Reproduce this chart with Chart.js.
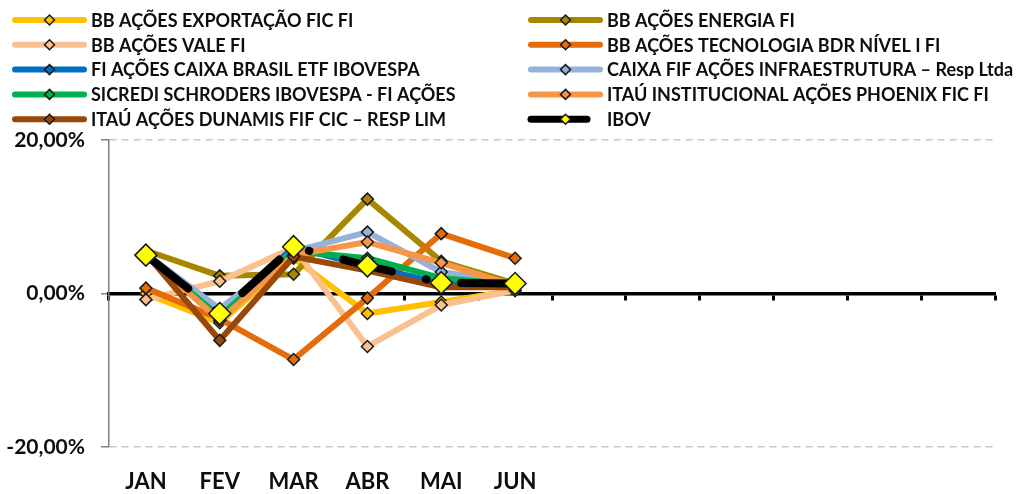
<!DOCTYPE html>
<html>
<head>
<meta charset="utf-8">
<script src="https://cdn.jsdelivr.net/npm/chart.js@4/dist/chart.umd.min.js"></script>
<style>
  html, body { margin: 0; padding: 0; background: #fff; }
  canvas { display: block; }
</style>
</head>
<body>
<canvas id="chart" width="1031" height="494"></canvas>
<script>
// meses (só o primeiro semestre tem dados)
const months = ['JAN', 'FEV', 'MAR', 'ABR', 'MAI', 'JUN', '', '', '', '', '', ''];
const yTicks = [-20, 0, 20];

const exportacao  = [0.0, -3.8, 4.6, -2.6, -1.1, 0.4];
const energia     = [5.6, 2.3, 2.5, 12.3, 4.2, 1.3];
const vale        = [-0.8, 1.6, 6.0, -6.9, -1.5, 0.4];
const tecnologia  = [0.7, -3.3, -8.6, -0.6, 7.8, 4.6];
const caixaEtf    = [5.0, -2.5, 6.0, 3.6, 1.3, 1.2];
const infra       = [5.2, -2.0, 5.5, 8.0, 2.8, 1.3];
const sicredi     = [5.0, -3.0, 5.5, 4.6, 2.0, 1.2];
const phoenix     = [5.0, -3.5, 5.0, 6.7, 4.0, 1.0];
const dunamis     = [5.2, -6.1, 4.8, 3.0, 0.8, 0.8];
const ibov        = [5.0, -2.6, 6.1, 3.6, 1.4, 1.3];

const FONT = 'Lato, "Open Sans", sans-serif';

function serie(label, data, color, extra) {
  return Object.assign({
    label: label,
    data: data,
    borderColor: color,
    backgroundColor: color,
    pointBackgroundColor: color,
    pointBorderColor: '#1a1a1a',
    pointBorderWidth: 1.5,
    pointStyle: 'rectRot',
    pointRadius: 6,
    borderWidth: 6,
    borderCapStyle: 'round',
    borderJoinStyle: 'round',
    tension: 0
  }, extra || {});
}

const datasets = [
  serie('BB AÇÕES EXPORTAÇÃO FIC FI', exportacao, '#FFC000'),
  serie('BB AÇÕES ENERGIA FI', energia, '#A88700'),
  serie('BB AÇÕES VALE FI', vale, '#FAC090'),
  serie('BB AÇÕES TECNOLOGIA BDR NÍVEL I FI', tecnologia, '#E46C0A'),
  serie('FI AÇÕES CAIXA BRASIL ETF IBOVESPA', caixaEtf, '#0070C0'),
  serie('CAIXA FIF AÇÕES INFRAESTRUTURA – Resp Ltda', infra, '#95B3D7'),
  serie('SICREDI SCHRODERS IBOVESPA - FI AÇÕES', sicredi, '#00B050'),
  serie('ITAÚ INSTITUCIONAL AÇÕES PHOENIX FIC FI', phoenix, '#F79646'),
  serie('ITAÚ AÇÕES DUNAMIS FIF CIC – RESP LIM', dunamis, '#984807'),
  serie('IBOV', ibov, '#000000', {
    pointBackgroundColor: '#FFFF00',
    pointRadius: 11,
    borderWidth: 8,
    borderDash: [50, 35, 0.5, 35],
    borderDashOffset: -4
  })
];
// a última série fica por cima
datasets.forEach((d, i) => { d.order = datasets.length - i; });

// legenda em duas colunas, como no Excel
const twoColLegend = {
  id: 'twoColLegend',
  afterDraw(chart) {
    const ctx = chart.ctx;
    ctx.save();
    chart.data.datasets.forEach((ds, i) => {
      const col = i % 2, row = Math.floor(i / 2);
      const x0 = col ? 528 : 12;
      const y = 20 + row * 24.8;
      const isIbov = ds.label === 'IBOV';
      const x1 = x0 + (isIbov ? 62 : 75);
      ctx.lineCap = 'round';
      ctx.lineWidth = isIbov ? 7 : 6;
      ctx.strokeStyle = ds.borderColor;
      ctx.setLineDash([]);
      ctx.beginPath(); ctx.moveTo(x0 + 3, y); ctx.lineTo(x1 - 3, y); ctx.stroke();
      const cx = x0 + 37.5, r = 5;
      ctx.beginPath();
      ctx.moveTo(cx, y - r); ctx.lineTo(cx + r, y); ctx.lineTo(cx, y + r); ctx.lineTo(cx - r, y);
      ctx.closePath();
      ctx.fillStyle = ds.pointBackgroundColor;
      ctx.fill();
      ctx.lineWidth = 1.5; ctx.strokeStyle = '#1a1a1a';
      ctx.stroke();
      ctx.fillStyle = '#0d0d0d';
      ctx.font = 'bold 18px ' + FONT;
      ctx.textBaseline = 'middle';
      ctx.fillText(ds.label, x0 + 79, y + 1);
    });
    ctx.restore();
  }
};

new Chart(document.getElementById('chart'), {
  type: 'line',
  data: { labels: months, datasets: datasets },
  plugins: [twoColLegend],
  options: {
    responsive: false,
    animation: false,
    devicePixelRatio: 1,
    layout: { padding: { top: 140, left: 0, right: 36, bottom: 0 } },
    plugins: { legend: { display: false }, tooltip: { enabled: false } },
    scales: {
      x: {
        type: 'category',
        offset: true,
        grid: { display: false },
        border: { display: false },
        ticks: { color: '#0d0d0d', font: { family: FONT, size: 22, weight: 'bold' }, padding: 14, maxRotation: 0, autoSkip: false },
        afterFit(s) { s.height = 47; }
      },
      x2: {
        type: 'category',
        offset: true,
        position: { y: 0 },
        grid: { drawOnChartArea: false, drawTicks: true, offset: true, tickLength: 5, tickWidth: 3, tickColor: '#000' },
        border: { display: true, color: '#000', width: 3.5 },
        ticks: { display: false }
      },
      y: {
        min: -20,
        max: 20,
        afterBuildTicks(s) { s.ticks = yTicks.map(v => ({ value: v })); },
        grid: {
          color: c => (c.tick && c.tick.value === 0) ? 'rgba(0,0,0,0)' : '#C8C8C8',
          lineWidth: 1.5,
          tickColor: '#808080',
          tickLength: 8,
          tickBorderDash: []
        },
        border: { display: true, color: '#808080', width: 1.5, dash: [7, 5] },
        ticks: {
          color: '#0d0d0d',
          font: { family: FONT, size: 21, weight: 'bold' },
          padding: 16,
          callback: v => v.toFixed(2).replace('.', ',') + '%'
        },
        afterFit(s) { s.width = 109; }
      }
    }
  }
});
</script>
</body>
</html>
